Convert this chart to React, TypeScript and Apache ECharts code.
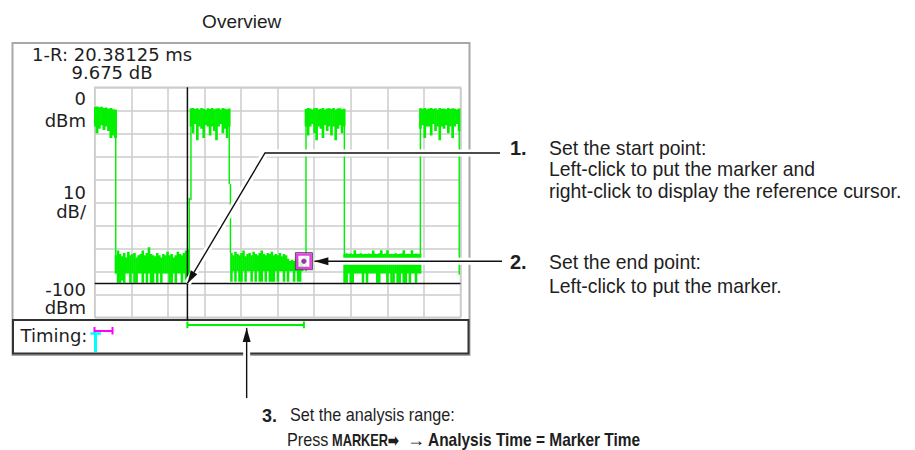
import React, { useEffect, useRef } from "react";
import * as echarts from "echarts";

// ---- axes (time in ms, level in dBm) ----
const X_MIN = 0;
const X_MAX = 64;
const X_DIV = 6.4;
const Y_MIN = -100;
const Y_MAX = 0;
const Y_DIV = 10;

// ---- trace: burst "on" spans and noise-floor spans (ms) ----
const pulseSpans = [
  [0, 3.64],
  [16.84, 23.54],
  [36.97, 43.65],
  [57.0, 63.75],
];
const floorSpans = [
  [3.72, 16.35],
  [23.92, 36.3],
  [43.72, 56.93],
];

// per display column: peak (hi) and dip (lo) levels, dBm
const high1Hi = [-8.6, -8.4, -8.7, -8.5, -9, -8.8, -9.3, -9, -9.5, -9.8];
const high1Lo = [-17, -20, -18, -16.5, -18.6, -17, -19, -22, -21, -22];
const high2Hi = [-9.2, -9.0, -9.4, -9.1, -9.6, -9.0, -9.3, -9.8, -9.1, -9.4, -9.0, -9.5, -9.2, -9.1, -9.6, -9.0, -9.3, -9.5, -9.2];
const high2Lo = [-17, -20, -16, -23, -17, -18, -22, -16.5, -17, -21, -17, -19, -23, -17, -16, -20, -18, -22, -17];
const high3Hi = [-9.4, -9.0, -9.2, -9.6, -9.1, -9.0, -9.5, -9.3, -9.0, -9.7, -9.2, -9.1, -9.4, -9.0, -9.6, -9.2, -9.1, -9.5, -9.3];
const high3Lo = [-17, -21, -17, -16, -20, -23, -17, -18, -22, -16.5, -19, -17, -21, -17, -23, -18, -16.5, -20, -17];
const high4Hi = [-9.1, -9.3, -9.0, -9.5, -9.2, -9.0, -9.4, -9.1, -9.6, -9.0, -9.3, -9.2, -9.5, -9.0, -9.4, -9.1, -9.3, -9.6, -9.2];
const high4Lo = [-18, -16.5, -22, -17, -17, -21, -16, -19, -17, -23, -17, -18, -16.5, -20, -17, -22, -17, -16, -19];
const low1Hi = [-73, -71, -72.5, -73.5, -72, -74, -71.5, -73, -72.5, -72, -74, -73, -72.5, -71, -73, -72, -69.5, -72.5, -73, -73.5, -72, -73, -74, -72.5, -73, -71.5, -73, -72.5, -74, -73, -71.5, -72.5, -73, -72, -71, -70.5];
const low1Lo = [-81, -85, -85, -84, -85, -81, -81, -85, -81, -85, -85, -81, -81, -85, -81, -85, -81, -85, -85, -81, -85, -81, -85, -81, -81, -81, -85, -85, -81, -85, -81, -81, -85, -81, -85, -85];
const low2Hi = [-72, -73, -71.5, -72.5, -73, -72, -71, -73.5, -72.5, -72, -73, -71.5, -72.5, -73, -72, -71, -72.5, -73, -72, -72.5, -71.5, -73, -72.5, -73, -72, -73.5, -72.5, -73, -74.5, -75.5, -75, -75.5, -74.5, -75, -76, -75];
const low2Lo = [-84.5, -80, -84.5, -80, -84.5, -84.5, -80, -84.5, -80, -80, -84.5, -80, -84.5, -80, -84.5, -84.5, -80, -84.5, -80, -84.5, -84.5, -84.5, -80, -84.5, -80, -80, -84.5, -80, -84.5, -80, -80, -84.5, -80, -84.5, -84.5, -80];
const low3Hi = [-72.5, -72.2, -72.5, -72.3, -72.5, -70.8, -72.4, -72.5, -72.2, -72.5, -72.4, -72.5, -72.3, -72.5, -71, -72.4, -72.5, -72.2, -70.8, -72.5, -72.3, -70.8, -72.5, -72.4, -72.5, -72.2, -72.5, -72.4, -72.3, -70.8, -72.5, -72.4, -72.5, -70.8, -72.5, -72.3, -72.5, -72.4];
const low3Lo = [-85, -85, -81, -85, -85, -81, -81, -81, -81, -85, -81, -85, -81, -81, -81, -81, -85, -85, -81, -81, -81, -85, -81, -85, -85, -81, -85, -85, -81, -85, -85, -81, -85, -81, -81, -85, -81, -81];
// vertical transitions: [time, top, bottom]
const edgeCols = [
  [3.68, -9.8, -81],
  [16.55, -48, -81],
  [16.84, -9.2, -49],
  [23.54, -9.5, -42],
  [23.75, -42, -72],
  [36.97, -9.5, -80],
  [43.68, -9.7, -72.5],
  [56.98, -9.2, -81],
  [63.78, -9.5, -81.5],
];
const EDGE_W = 0.25;

// ---- cursors ----
const refTime = 16.22;
const refLevel = -85.275;
const markerTime = 36.6;
const markerLevel = -75.6;
const deltaTime = "20.38125";
const deltaLevel = "9.675";
const bracketLevel = -103.3;

// ---- texts ----
const yLabels = ["0", "dBm", "10", "dB/", "-100", "dBm"];
const step1 = ["Set the start point:", "Left-click to put the marker and", "right-click to display the reference cursor."];
const step2 = ["Set the end point:", "Left-click to put the marker."];
const step3 = ["Set the analysis range:", "Press ", "MARKER\u27a1", "\u2192", "Analysis Time = Marker Time"];

function spanCols(span: number[], hi: number[], lo: number[]) {
  const out: number[][] = [];
  const n = hi.length;
  const step = (span[1] - span[0]) / (n - 1);
  for (let i = 0; i < n; i++) {
    out.push([span[0] + step * i, hi[i], lo[i], step * 1.25]);
  }
  return out;
}

function buildColumns() {
  return [
    ...spanCols(pulseSpans[0], high1Hi, high1Lo),
    ...spanCols(pulseSpans[1], high2Hi, high2Lo),
    ...spanCols(pulseSpans[2], high3Hi, high3Lo),
    ...spanCols(pulseSpans[3], high4Hi, high4Lo),
    ...spanCols(floorSpans[0], low1Hi, low1Lo),
    ...spanCols(floorSpans[1], low2Hi, low2Lo),
    ...spanCols(floorSpans[2], low3Hi, low3Lo),
    ...edgeCols.map((e) => [e[0], e[1], e[2], EDGE_W]),
  ];
}

const GREEN = "#00f000";
const MONO = "17px 'DejaVu Sans'";
const SANS = "20px 'Liberation Sans'";
const SANSB = "bold 20px 'Liberation Sans'";
const SMALL = "18px 'Liberation Sans'";
const SMALLB = "bold 18px 'Liberation Sans'";

function txt(text: string, x: number, y: number, font: string, align = "left", extra: any = {}) {
  const { style, ...rest } = extra;
  return {
    type: "text",
    x,
    y,
    z: 20,
    ...rest,
    style: {
      text,
      font,
      fill: "#1e1e1e",
      align,
      verticalAlign: "middle",
      textAlign: align,
      textVerticalAlign: "middle",
      ...(style || {}),
    },
  };
}

function arrowHead(tip: number[], from: number[], len = 13, half = 3.8) {
  const dx = tip[0] - from[0];
  const dy = tip[1] - from[1];
  const l = Math.hypot(dx, dy);
  const ux = dx / l;
  const uy = dy / l;
  const bx = tip[0] - ux * len;
  const by = tip[1] - uy * len;
  return {
    type: "polygon",
    z: 22,
    shape: { points: [tip, [bx - uy * half, by + ux * half], [bx + uy * half, by - ux * half]] },
    style: { fill: "#111" },
  };
}

function callout(points: number[][]) {
  return [
    { type: "polyline", z: 21, shape: { points }, style: { stroke: "#fff", lineWidth: 7, fill: null } },
    { type: "polyline", z: 22, shape: { points }, style: { stroke: "#111", lineWidth: 1.4, fill: null } },
  ];
}

export default function App() {
  const ref = useRef<HTMLDivElement>(null);
  useEffect(() => {
    if (!ref.current) return;
    const chart = echarts.init(ref.current, null, { renderer: "svg" });
    const axisCommon = {
      type: "value",
      axisLine: { show: false },
      axisTick: { show: false },
      axisLabel: { show: false },
      splitLine: { show: true, lineStyle: { color: "#cdcdcd", width: 1.5 } },
    };
    chart.setOption({
      animation: false,
      backgroundColor: "#fff",
      grid: {
        left: 94.7,
        top: 87.3,
        width: 365.8,
        height: 230,
        show: true,
        borderColor: "#cdcdcd",
        borderWidth: 1.5,
        backgroundColor: "rgba(255,255,255,0)",
      },
      xAxis: { ...axisCommon, min: X_MIN, max: X_MAX, interval: X_DIV },
      yAxis: { ...axisCommon, min: Y_MIN, max: Y_MAX, interval: Y_DIV },
      series: [
        {
          type: "custom",
          data: buildColumns(),
          encode: { x: 0, y: [1, 2] },
          clip: true,
          z: 3,
          renderItem: (params: any, api: any) => {
            const t = api.value(0);
            const p1 = api.coord([t, api.value(1)]);
            const p2 = api.coord([t, api.value(2)]);
            const w = api.size([api.value(3), 0])[0];
            return {
              type: "rect",
              shape: { x: p1[0] - w / 2, y: p1[1], width: w, height: p2[1] - p1[1] },
              style: { fill: GREEN },
            };
          },
        },
        {
          type: "line",
          data: [[refTime, Y_MAX], [refTime, -101.2]],
          showSymbol: false,
          clip: false,
          lineStyle: { color: "#111", width: 1.5 },
          z: 4,
        },
        {
          type: "line",
          data: [[X_MIN, refLevel], [X_MAX, refLevel]],
          showSymbol: false,
          lineStyle: { color: "#111", width: 1.5 },
          z: 4,
        },
        {
          type: "line",
          data: [
            [refTime, bracketLevel + 1.45],
            [refTime, bracketLevel - 1.45],
            [refTime, bracketLevel],
            [markerTime, bracketLevel],
            [markerTime, bracketLevel + 1.45],
            [markerTime, bracketLevel - 1.45],
          ],
          showSymbol: false,
          clip: false,
          lineStyle: { color: GREEN, width: 2 },
          z: 6,
        },
        {
          type: "scatter",
          data: [[markerTime, markerLevel]],
          symbol: "rect",
          symbolSize: 17,
          itemStyle: { color: "#fff", borderColor: "#222", borderWidth: 1 },
          z: 7,
        },
        {
          type: "scatter",
          data: [[markerTime, markerLevel]],
          symbol: "rect",
          symbolSize: 13.5,
          itemStyle: { color: "rgba(255,255,255,0)", borderColor: "#e010e0", borderWidth: 2.5 },
          z: 8,
        },
        {
          type: "scatter",
          data: [[markerTime, markerLevel]],
          symbol: "circle",
          symbolSize: 4.5,
          itemStyle: { color: "#602060", borderColor: "#e010e0", borderWidth: 1 },
          z: 9,
        },
      ],
    });

    const tip1 = chart.convertToPixel({ gridIndex: 0 }, [refTime, refLevel]) as number[];
    const mk = chart.convertToPixel({ gridIndex: 0 }, [markerTime, markerLevel]) as number[];
    const brL = chart.convertToPixel({ gridIndex: 0 }, [refTime, bracketLevel]) as number[];
    const brR = chart.convertToPixel({ gridIndex: 0 }, [markerTime, bracketLevel]) as number[];
    const bend1 = [265, 153];
    const tip2 = [mk[0] + 10.5, mk[1]];
    const arrowX3 = (brL[0] + brR[0]) / 2 + 1;
    const tip3 = [arrowX3, brL[1] + 3];
    const monoX = { scaleX: 1.06, style: { lineHeight: 17 } };
    const condensed = { scaleX: 0.9 };

    const graphics: any[] = [
      // outer frame and timing box
      { type: "rect", z: 0, shape: { x: 12.5, y: 43, width: 457, height: 312 }, style: { fill: null, stroke: "#a8a8a8", lineWidth: 2 } },
      { type: "rect", z: 0, shape: { x: 13, y: 320, width: 455.5, height: 33.5 }, style: { fill: "#fff", stroke: "#333", lineWidth: 2 } },
      // timing icons
      { type: "line", z: 10, shape: { x1: 94.5, y1: 331, x2: 112.5, y2: 331 }, style: { stroke: "#ff00ff", lineWidth: 2 } },
      { type: "line", z: 10, shape: { x1: 94.5, y1: 327, x2: 94.5, y2: 334.5 }, style: { stroke: "#ff00ff", lineWidth: 2 } },
      { type: "line", z: 10, shape: { x1: 112.5, y1: 327, x2: 112.5, y2: 334.5 }, style: { stroke: "#ff00ff", lineWidth: 2 } },
      { type: "line", z: 10, shape: { x1: 90.5, y1: 333.5, x2: 101, y2: 333.5 }, style: { stroke: "#00ffff", lineWidth: 2.5 } },
      { type: "line", z: 10, shape: { x1: 95.5, y1: 333, x2: 95.5, y2: 352 }, style: { stroke: "#00ffff", lineWidth: 3 } },
      // left texts
      txt(`1-R: ${deltaTime} ms`, 32, 55.5, MONO, "left", monoX),
      txt(`${deltaLevel} dB`, 71.5, 73.5, MONO, "left", monoX),
      txt(yLabels[0], 86, 99, MONO, "right", monoX),
      txt(yLabels[1], 86, 121, MONO, "right", monoX),
      txt(yLabels[2], 86, 193, MONO, "right", monoX),
      txt(yLabels[3], 86, 212, MONO, "right", monoX),
      txt(yLabels[4], 86, 290, MONO, "right", monoX),
      txt(yLabels[5], 86, 308.5, MONO, "right", monoX),
      txt("Timing:", 20.5, 336.5, MONO, "left", monoX),
      txt("Overview", 241.7, 21, "19px 'Liberation Sans'", "center"),
      // callouts
      ...callout([[500, bend1[1]], bend1, tip1]),
      arrowHead(tip1, bend1),
      ...callout([[502, tip2[1]], tip2]),
      arrowHead(tip2, [502, tip2[1]], 14, 4),
      ...callout([[arrowX3, 398], tip3]),
      arrowHead(tip3, [arrowX3, 398], 14, 4),
      // step texts
      txt("1.", 510, 147.5, SANSB),
      txt(step1[0], 549, 147.5, SANS, "left", { scaleX: 0.97 }),
      txt(step1[1], 549, 169, SANS, "left", { scaleX: 0.97 }),
      txt(step1[2], 549, 190.5, SANS, "left", { scaleX: 0.97 }),
      txt("2.", 510, 262, SANSB),
      txt(step2[0], 549, 262, SANS, "left", { scaleX: 0.97 }),
      txt(step2[1], 549, 286, SANS, "left", { scaleX: 0.97 }),
      txt("3.", 262, 415.5, SMALLB),
      txt(step3[0], 290, 415.5, SMALL, "left", condensed),
      txt(step3[1], 287, 440, SMALL, "left", condensed),
      txt(step3[2], 332, 440, "bold 16px 'Liberation Sans'", "left", { scaleX: 0.8 }),
      txt(step3[3], 407, 440, SMALL, "left"),
      txt(step3[4], 428, 440, SMALLB, "left", { scaleX: 0.86 }),
    ];
    chart.setOption({ graphic: graphics });
    return () => chart.dispose();
  }, []);
  return <div ref={ref} style={{ position: "absolute", left: 0, top: 0, width: 915, height: 450 }} />;
}
